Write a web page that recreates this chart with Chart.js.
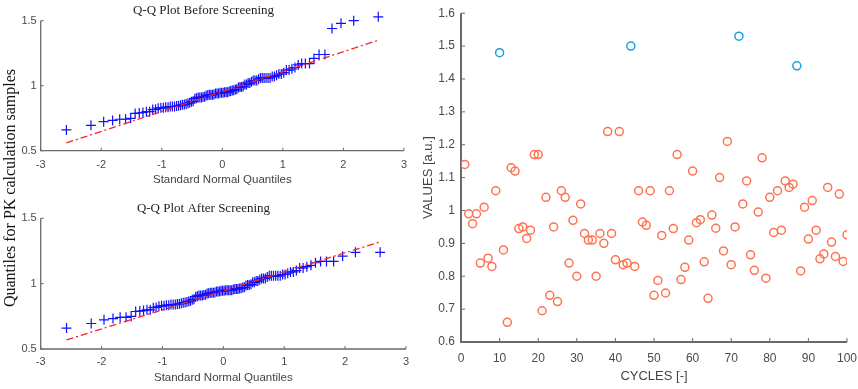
<!DOCTYPE html>
<html>
<head>
<meta charset="utf-8">
<script src="https://cdn.jsdelivr.net/npm/chart.js@4"></script>
<style>
  body { margin: 0; background: #fff; }
  #wrap { position: relative; width: 858px; height: 389px; overflow: hidden; }
  canvas { position: absolute; }
  #qqlabel {
    position: absolute; left: -140px; top: 178px; width: 300px; height: 20px;
    text-align: center; font: 16px "Liberation Serif", "Times New Roman", serif; color: #111;
    transform: rotate(-90deg); transform-origin: center; line-height: 20px;
  }
</style>
</head>
<body>
<div id="wrap">
  <canvas id="qqBefore" style="left:0;top:0"></canvas>
  <canvas id="qqAfter" style="left:0;top:195px"></canvas>
  <canvas id="cycles" style="left:415px;top:0"></canvas>
  <div id="qqlabel">Quantiles for PK calculation samples</div>
</div>
<script>
// standard normal quantiles (x of both Q-Q plots)
const normQuantiles = [-2.576,-2.170,-1.960,-1.812,-1.695,-1.598,-1.514,-1.440,-1.372,-1.311,
  -1.254,-1.200,-1.150,-1.103,-1.058,-1.015,-0.974,-0.935,-0.896,-0.860,
  -0.824,-0.789,-0.755,-0.722,-0.690,-0.659,-0.628,-0.598,-0.568,-0.539,
  -0.510,-0.482,-0.454,-0.426,-0.399,-0.372,-0.345,-0.319,-0.292,-0.266,
  -0.240,-0.215,-0.189,-0.164,-0.138,-0.113,-0.088,-0.063,-0.038,-0.013,
  0.013,0.038,0.063,0.088,0.113,0.138,0.164,0.189,0.215,0.240,
  0.266,0.292,0.319,0.345,0.372,0.399,0.426,0.454,0.482,0.510,
  0.539,0.568,0.598,0.628,0.659,0.690,0.722,0.755,0.789,0.824,
  0.860,0.896,0.935,0.974,1.015,1.058,1.103,1.150,1.200,1.254,
  1.311,1.372,1.440,1.514,1.598,1.695,1.812,1.960,2.170,2.576];

const beforeSorted = [0.66,0.695,0.723,0.733,0.742,0.742,0.749,0.787,0.79,0.794,
  0.80,0.80,0.816,0.818,0.827,0.83,0.83,0.835,0.835,0.84,
  0.84,0.84,0.844,0.845,0.85,0.853,0.855,0.86,0.865,0.868,
  0.877,0.88,0.90,0.904,0.91,0.91,0.91,0.913,0.915,0.924,
  0.926,0.93,0.93,0.93,0.933,0.94,0.94,0.94,0.945,0.945,
  0.946,0.95,0.95,0.95,0.955,0.96,0.963,0.965,0.97,0.972,
  0.986,0.99,0.99,0.995,1.01,1.01,1.02,1.02,1.03,1.04,
  1.04,1.04,1.05,1.06,1.06,1.06,1.06,1.06,1.06,1.07,
  1.07,1.08,1.09,1.09,1.10,1.12,1.12,1.13,1.14,1.16,
  1.17,1.17,1.17,1.21,1.24,1.24,1.44,1.48,1.50,1.53];

const afterSorted = [0.66,0.695,0.723,0.733,0.742,0.742,0.749,0.787,0.79,0.794,
  0.80,0.80,0.816,0.818,0.827,0.83,0.83,0.835,0.835,0.84,
  0.84,0.84,0.844,0.845,0.85,0.853,0.855,0.86,0.865,0.868,
  0.877,0.88,0.90,0.904,0.91,0.91,0.91,0.913,0.915,0.924,
  0.926,0.93,0.93,0.93,0.933,0.94,0.94,0.94,0.945,0.945,
  0.946,0.95,0.95,0.95,0.95,0.95,0.955,0.96,0.96,0.96,
  0.963,0.965,0.97,0.972,0.986,0.99,0.99,0.995,1.01,1.01,
  1.02,1.02,1.03,1.04,1.04,1.04,1.05,1.06,1.06,1.06,
  1.06,1.06,1.06,1.07,1.07,1.08,1.09,1.09,1.10,1.12,
  1.12,1.13,1.14,1.16,1.17,1.17,1.17,1.21,1.24,1.24];

// red dash-dot reference lines (end points)
const refLineX = [-2.576, 2.576];
const refBeforeY = [0.56, 1.35];
const refAfterY = [0.57, 1.32];

// right panel: values per cycle
const normalCycles = [1,2,3,4,5,6,7,8,9,11,12,13,14,15,16,17,18,19,20,21,22,23,24,25,26,27,28,29,30,
  31,32,33,34,35,36,37,38,39,40,41,42,43,45,46,47,48,49,50,51,52,53,54,55,56,57,58,59,60,
  61,62,63,64,65,66,67,68,69,70,71,73,74,75,76,77,78,79,80,81,82,83,84,85,86,88,89,90,
  91,92,93,94,95,96,97,98,99,100];
const normalValues = [1.14,0.99,0.96,0.99,0.84,1.01,0.855,0.83,1.06,0.88,0.66,1.13,1.12,0.945,0.95,0.915,0.94,1.17,1.17,0.695,
  1.04,0.742,0.95,0.723,1.06,1.04,0.84,0.97,0.80,1.02,0.93,0.91,0.91,0.80,0.93,0.90,1.24,0.93,0.85,1.24,
  0.835,0.84,0.83,1.06,0.965,0.955,1.06,0.742,0.787,0.924,0.749,1.06,0.945,1.17,0.79,0.827,0.91,1.12,
  0.963,0.972,0.844,0.733,0.986,0.946,1.10,0.877,1.21,0.835,0.95,1.02,1.09,0.865,0.818,0.995,1.16,0.794,
  1.04,0.933,1.06,0.94,1.09,1.07,1.08,0.816,1.01,0.913,1.03,0.94,0.853,0.868,1.07,0.904,0.86,1.05,0.845,0.926];
const outlierCycles = [10, 44, 72, 87];
const outlierValues = [1.48, 1.50, 1.53, 1.44];

// axis ranges
const qqXRange = [-3, 3];
const qqYRange = [0.5, 1.5];
const cycXRange = [0, 100];
const cycYRange = [0.6, 1.6];

const sans = '"Liberation Sans", Arial, sans-serif';
const serif = '"Liberation Serif", "Times New Roman", serif';
const axisGray = '#6a6a6a';
const tickText = '#4a4a4a';

function pairs(xs, ys) { return xs.map((x, i) => ({ x: x, y: ys[i] })); }
function fmt(v) { return String(+(+v).toFixed(1)); }

// left + bottom axis line (box off), drawn through the scales
function axisFrame(xr, yr, w) {
  return {
    data: [{ x: xr[0], y: yr[1] }, { x: xr[0], y: yr[0] }, { x: xr[1], y: yr[0] }],
    showLine: true,
    borderColor: axisGray,
    borderWidth: w,
    pointRadius: 0,
    clip: false,
    order: 10
  };
}

// short ticks pointing into the plot (MATLAB default)
const inwardTicks = {
  id: 'inwardTicks',
  afterDraw(chart) {
    const ctx = chart.ctx;
    const a = chart.chartArea;
    const len = chart.canvas.id === 'cycles' ? 4 : 3;
    ctx.save();
    ctx.fillStyle = axisGray;
    chart.scales.x.ticks.forEach(t => {
      const px = chart.scales.x.getPixelForValue(t.value);
      ctx.fillRect(px - 0.5, a.bottom - len, 1, len);
    });
    chart.scales.y.ticks.forEach(t => {
      const py = chart.scales.y.getPixelForValue(t.value);
      ctx.fillRect(a.left, py - 0.5, len, 1);
    });
    ctx.restore();
  }
};

function qqChart(id, h, title, ys, refY, geo) {
  const el = document.getElementById(id);
  el.width = 415; el.height = h;
  return new Chart(el, {
    type: 'scatter',
    data: {
      datasets: [{
        data: pairs(refLineX, refY),
        showLine: true,
        borderColor: '#ff2020',
        borderWidth: 1.3,
        borderDash: [7, 3, 2, 3],
        pointRadius: 0,
        clip: false
      }, {
        data: pairs(normQuantiles, ys),
        pointStyle: 'cross',
        pointRadius: 5,
        borderWidth: 1.2,
        borderColor: '#1010ff',
        backgroundColor: '#1010ff',
        clip: false
      }, axisFrame(qqXRange, qqYRange, 1.3)]
    },
    options: {
      responsive: false,
      animation: false,
      layout: { padding: { right: 8 } },
      plugins: {
        legend: { display: false },
        tooltip: { enabled: false },
        title: {
          display: true, text: title, color: '#222',
          font: { family: serif, size: 13, weight: 'normal' },
          padding: { top: geo.titleTop, bottom: geo.titleBottom }
        }
      },
      scales: {
        x: {
          min: qqXRange[0], max: qqXRange[1],
          grid: { display: false, drawTicks: false, tickLength: 0 },
          border: { display: false },
          ticks: { stepSize: 1, color: tickText, padding: geo.xTickPad, font: { family: sans, size: 11 } },
          title: { display: true, text: 'Standard Normal Quantiles', color: '#444',
                   font: { family: sans, size: 11.5 }, padding: { top: 0, bottom: geo.xTitlePad } },
          afterFit: s => { s.height = geo.xHeight; }
        },
        y: {
          min: qqYRange[0], max: qqYRange[1],
          grid: { display: false, drawTicks: false, tickLength: 0 },
          border: { display: false },
          ticks: { stepSize: 0.5, color: tickText, padding: 4, font: { family: sans, size: 11 }, callback: fmt },
          afterFit: s => { s.width = 40.7; }
        }
      }
    },
    plugins: [inwardTicks]
  });
}

qqChart('qqBefore', 195, 'Q-Q Plot Before Screening', beforeSorted, refBeforeY,
  { titleTop: 3.2, titleBottom: 1.9, xTickPad: 8, xTitlePad: 8.4, xHeight: 44.3 });
qqChart('qqAfter', 194, 'Q-Q Plot After Screening', afterSorted, refAfterY,
  { titleTop: 6.2, titleBottom: 1.5, xTickPad: 6, xTitlePad: 4.7, xHeight: 40 });

const cyc = document.getElementById('cycles');
cyc.width = 460; cyc.height = 389;
new Chart(cyc, {
  type: 'scatter',
  data: {
    datasets: [{
      data: pairs(outlierCycles, outlierValues),
      pointStyle: 'circle',
      pointRadius: 4,
      borderWidth: 1.5,
      borderColor: '#16a0e0',
      backgroundColor: 'rgba(0,0,0,0)'
    }, {
      data: pairs(normalCycles, normalValues),
      pointStyle: 'circle',
      pointRadius: 4,
      borderWidth: 1.5,
      borderColor: '#ff7250',
      backgroundColor: 'rgba(0,0,0,0)'
    }, axisFrame(cycXRange, cycYRange, 2)]
  },
  options: {
    responsive: false,
    animation: false,
    layout: { padding: { top: 7, right: 28 } },
    plugins: {
      legend: { display: false },
      tooltip: { enabled: false }
    },
    scales: {
      x: {
        min: cycXRange[0], max: cycXRange[1],
        grid: { display: false, drawTicks: false, tickLength: 0 },
        border: { display: false },
        ticks: { stepSize: 10, color: tickText, padding: 9, font: { family: sans, size: 12 } },
        title: { display: true, text: 'CYCLES [-]', color: '#444',
                 font: { family: sans, size: 13 }, padding: { top: 0, bottom: 4.5 } },
        afterFit: s => { s.height = 47; }
      },
      y: {
        min: cycYRange[0], max: cycYRange[1],
        grid: { display: false, drawTicks: false, tickLength: 0 },
        border: { display: false },
        ticks: { stepSize: 0.1, color: tickText, padding: 6, font: { family: sans, size: 12 }, callback: fmt },
        title: { display: true, text: 'VALUES [a.u.]', color: '#444',
                 font: { family: sans, size: 13 }, padding: { top: 5.2, bottom: 0 } },
        afterFit: s => { s.width = 46; }
      }
    }
  },
  plugins: [inwardTicks]
});
</script>
</body>
</html>
